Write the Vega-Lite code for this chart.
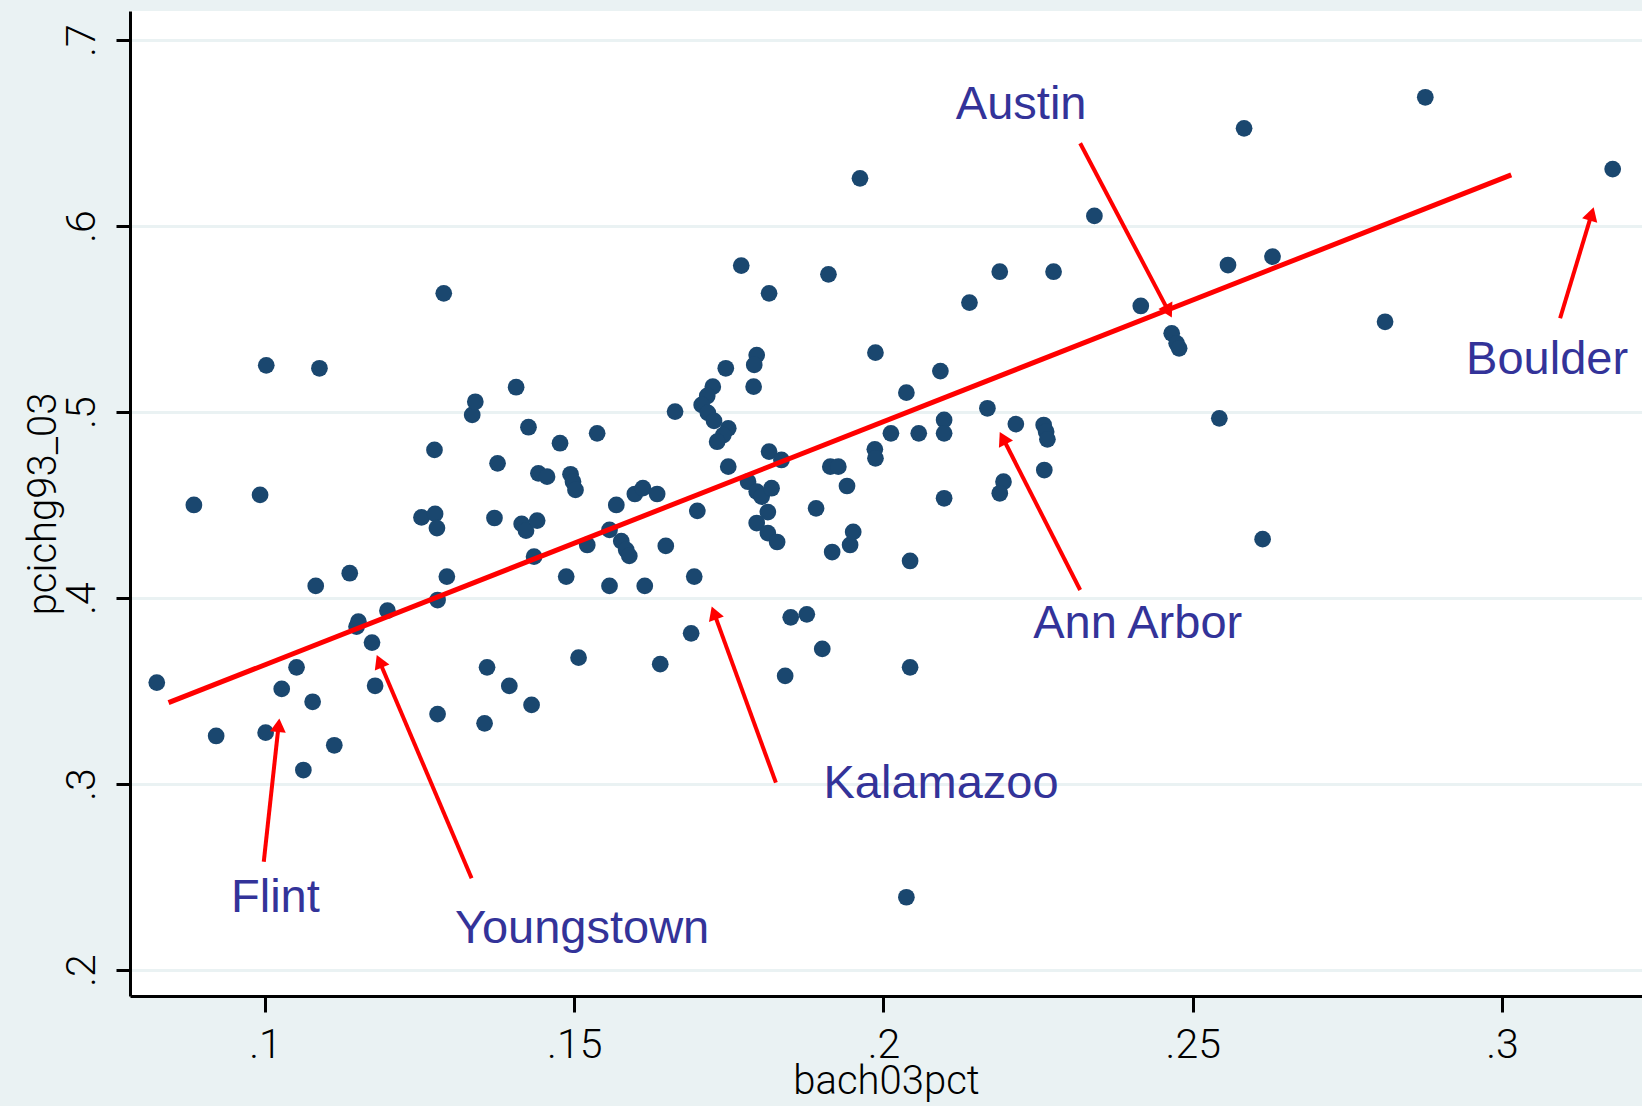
{
  "$schema": "https://vega.github.io/schema/vega-lite/v6.json",
  "width": 1512,
  "height": 985,
  "autosize": {"type": "none"},
  "padding": {"left": 130, "top": 11, "right": 0, "bottom": 110},
  "background": "#eaf2f3",
  "config": {
    "view": {"fill": "white", "stroke": null},
    "axis": {
      "labelFont": "Roboto",
      "labelFontWeight": 300,
      "labelFontSize": 41,
      "labelColor": "black",
      "titleFont": "Roboto",
      "titleFontWeight": 300,
      "titleFontSize": 40,
      "titleColor": "black",
      "domainColor": "black",
      "domainWidth": 3,
      "tickColor": "black",
      "tickWidth": 3,
      "labelOverlap": false,
      "labelFlush": false,
      "labelBound": false
    }
  },
  "datasets": {
    "points": [
      {"bach03pct": 0.0825, "pcichg93_03": 0.3545},
      {"bach03pct": 0.0885, "pcichg93_03": 0.4500},
      {"bach03pct": 0.0921, "pcichg93_03": 0.3258},
      {"bach03pct": 0.0992, "pcichg93_03": 0.4554},
      {"bach03pct": 0.1002, "pcichg93_03": 0.5251},
      {"bach03pct": 0.1001, "pcichg93_03": 0.3276},
      {"bach03pct": 0.1027, "pcichg93_03": 0.3511},
      {"bach03pct": 0.1051, "pcichg93_03": 0.3627},
      {"bach03pct": 0.1062, "pcichg93_03": 0.3075},
      {"bach03pct": 0.1077, "pcichg93_03": 0.3442},
      {"bach03pct": 0.1082, "pcichg93_03": 0.4065},
      {"bach03pct": 0.1088, "pcichg93_03": 0.5235},
      {"bach03pct": 0.1112, "pcichg93_03": 0.3208},
      {"bach03pct": 0.1137, "pcichg93_03": 0.4133},
      {"bach03pct": 0.1151, "pcichg93_03": 0.3873},
      {"bach03pct": 0.1148, "pcichg93_03": 0.3846},
      {"bach03pct": 0.1173, "pcichg93_03": 0.3760},
      {"bach03pct": 0.1178, "pcichg93_03": 0.3528},
      {"bach03pct": 0.1198, "pcichg93_03": 0.3932},
      {"bach03pct": 0.1253, "pcichg93_03": 0.4433},
      {"bach03pct": 0.1275, "pcichg93_03": 0.4452},
      {"bach03pct": 0.1278, "pcichg93_03": 0.4376},
      {"bach03pct": 0.1274, "pcichg93_03": 0.4796},
      {"bach03pct": 0.1279, "pcichg93_03": 0.3989},
      {"bach03pct": 0.1279, "pcichg93_03": 0.3376},
      {"bach03pct": 0.1289, "pcichg93_03": 0.5638},
      {"bach03pct": 0.1294, "pcichg93_03": 0.4115},
      {"bach03pct": 0.1335, "pcichg93_03": 0.4984},
      {"bach03pct": 0.1340, "pcichg93_03": 0.5055},
      {"bach03pct": 0.1355, "pcichg93_03": 0.3326},
      {"bach03pct": 0.1359, "pcichg93_03": 0.3627},
      {"bach03pct": 0.1371, "pcichg93_03": 0.4430},
      {"bach03pct": 0.1376, "pcichg93_03": 0.4724},
      {"bach03pct": 0.1395, "pcichg93_03": 0.3527},
      {"bach03pct": 0.1406, "pcichg93_03": 0.5133},
      {"bach03pct": 0.1415, "pcichg93_03": 0.4398},
      {"bach03pct": 0.1422, "pcichg93_03": 0.4362},
      {"bach03pct": 0.1440, "pcichg93_03": 0.4416},
      {"bach03pct": 0.1426, "pcichg93_03": 0.4918},
      {"bach03pct": 0.1431, "pcichg93_03": 0.3425},
      {"bach03pct": 0.1435, "pcichg93_03": 0.4222},
      {"bach03pct": 0.1442, "pcichg93_03": 0.4670},
      {"bach03pct": 0.1456, "pcichg93_03": 0.4652},
      {"bach03pct": 0.1477, "pcichg93_03": 0.4832},
      {"bach03pct": 0.1487, "pcichg93_03": 0.4115},
      {"bach03pct": 0.1494, "pcichg93_03": 0.4665},
      {"bach03pct": 0.1498, "pcichg93_03": 0.4625},
      {"bach03pct": 0.1502, "pcichg93_03": 0.4581},
      {"bach03pct": 0.1507, "pcichg93_03": 0.3679},
      {"bach03pct": 0.1521, "pcichg93_03": 0.4285},
      {"bach03pct": 0.1537, "pcichg93_03": 0.4885},
      {"bach03pct": 0.1557, "pcichg93_03": 0.4366},
      {"bach03pct": 0.1557, "pcichg93_03": 0.4065},
      {"bach03pct": 0.1568, "pcichg93_03": 0.4500},
      {"bach03pct": 0.1576, "pcichg93_03": 0.4306},
      {"bach03pct": 0.1584, "pcichg93_03": 0.4258},
      {"bach03pct": 0.1589, "pcichg93_03": 0.4226},
      {"bach03pct": 0.1598, "pcichg93_03": 0.4559},
      {"bach03pct": 0.1611, "pcichg93_03": 0.4591},
      {"bach03pct": 0.1634, "pcichg93_03": 0.4559},
      {"bach03pct": 0.1614, "pcichg93_03": 0.4065},
      {"bach03pct": 0.1639, "pcichg93_03": 0.3644},
      {"bach03pct": 0.1648, "pcichg93_03": 0.4280},
      {"bach03pct": 0.1663, "pcichg93_03": 0.5002},
      {"bach03pct": 0.1689, "pcichg93_03": 0.3810},
      {"bach03pct": 0.1694, "pcichg93_03": 0.4115},
      {"bach03pct": 0.1699, "pcichg93_03": 0.4468},
      {"bach03pct": 0.1724, "pcichg93_03": 0.5136},
      {"bach03pct": 0.1715, "pcichg93_03": 0.5086},
      {"bach03pct": 0.1706, "pcichg93_03": 0.5038},
      {"bach03pct": 0.1716, "pcichg93_03": 0.4995},
      {"bach03pct": 0.1726, "pcichg93_03": 0.4952},
      {"bach03pct": 0.1745, "pcichg93_03": 0.5235},
      {"bach03pct": 0.1749, "pcichg93_03": 0.4912},
      {"bach03pct": 0.1741, "pcichg93_03": 0.4876},
      {"bach03pct": 0.1731, "pcichg93_03": 0.4840},
      {"bach03pct": 0.1749, "pcichg93_03": 0.4706},
      {"bach03pct": 0.1770, "pcichg93_03": 0.5787},
      {"bach03pct": 0.1781, "pcichg93_03": 0.4625},
      {"bach03pct": 0.1795, "pcichg93_03": 0.4572},
      {"bach03pct": 0.1803, "pcichg93_03": 0.4545},
      {"bach03pct": 0.1819, "pcichg93_03": 0.4590},
      {"bach03pct": 0.1790, "pcichg93_03": 0.5136},
      {"bach03pct": 0.1795, "pcichg93_03": 0.5306},
      {"bach03pct": 0.1791, "pcichg93_03": 0.5253},
      {"bach03pct": 0.1815, "pcichg93_03": 0.5638},
      {"bach03pct": 0.1815, "pcichg93_03": 0.4787},
      {"bach03pct": 0.1835, "pcichg93_03": 0.4742},
      {"bach03pct": 0.1813, "pcichg93_03": 0.4462},
      {"bach03pct": 0.1795, "pcichg93_03": 0.4403},
      {"bach03pct": 0.1813, "pcichg93_03": 0.4349},
      {"bach03pct": 0.1828, "pcichg93_03": 0.4301},
      {"bach03pct": 0.1841, "pcichg93_03": 0.3581},
      {"bach03pct": 0.1850, "pcichg93_03": 0.3896},
      {"bach03pct": 0.1876, "pcichg93_03": 0.3912},
      {"bach03pct": 0.1891, "pcichg93_03": 0.4482},
      {"bach03pct": 0.1901, "pcichg93_03": 0.3726},
      {"bach03pct": 0.1911, "pcichg93_03": 0.5740},
      {"bach03pct": 0.1914, "pcichg93_03": 0.4706},
      {"bach03pct": 0.1927, "pcichg93_03": 0.4706},
      {"bach03pct": 0.1917, "pcichg93_03": 0.4247},
      {"bach03pct": 0.1941, "pcichg93_03": 0.4602},
      {"bach03pct": 0.1946, "pcichg93_03": 0.4285},
      {"bach03pct": 0.1951, "pcichg93_03": 0.4355},
      {"bach03pct": 0.1962, "pcichg93_03": 0.6256},
      {"bach03pct": 0.1986, "pcichg93_03": 0.4799},
      {"bach03pct": 0.1987, "pcichg93_03": 0.4751},
      {"bach03pct": 0.1987, "pcichg93_03": 0.5319},
      {"bach03pct": 0.2012, "pcichg93_03": 0.4885},
      {"bach03pct": 0.2037, "pcichg93_03": 0.5104},
      {"bach03pct": 0.2037, "pcichg93_03": 0.2391},
      {"bach03pct": 0.2043, "pcichg93_03": 0.4199},
      {"bach03pct": 0.2043, "pcichg93_03": 0.3627},
      {"bach03pct": 0.2057, "pcichg93_03": 0.4885},
      {"bach03pct": 0.2092, "pcichg93_03": 0.5220},
      {"bach03pct": 0.2098, "pcichg93_03": 0.4957},
      {"bach03pct": 0.2098, "pcichg93_03": 0.4885},
      {"bach03pct": 0.2098, "pcichg93_03": 0.4536},
      {"bach03pct": 0.2139, "pcichg93_03": 0.5588},
      {"bach03pct": 0.2168, "pcichg93_03": 0.5020},
      {"bach03pct": 0.2188, "pcichg93_03": 0.5754},
      {"bach03pct": 0.2194, "pcichg93_03": 0.4625},
      {"bach03pct": 0.2188, "pcichg93_03": 0.4563},
      {"bach03pct": 0.2214, "pcichg93_03": 0.4935},
      {"bach03pct": 0.2259, "pcichg93_03": 0.4930},
      {"bach03pct": 0.2263, "pcichg93_03": 0.4894},
      {"bach03pct": 0.2265, "pcichg93_03": 0.4853},
      {"bach03pct": 0.2260, "pcichg93_03": 0.4688},
      {"bach03pct": 0.2275, "pcichg93_03": 0.5754},
      {"bach03pct": 0.2341, "pcichg93_03": 0.6054},
      {"bach03pct": 0.2416, "pcichg93_03": 0.5570},
      {"bach03pct": 0.2466, "pcichg93_03": 0.5423},
      {"bach03pct": 0.2474, "pcichg93_03": 0.5369},
      {"bach03pct": 0.2478, "pcichg93_03": 0.5342},
      {"bach03pct": 0.2543, "pcichg93_03": 0.4966},
      {"bach03pct": 0.2557, "pcichg93_03": 0.5790},
      {"bach03pct": 0.2583, "pcichg93_03": 0.6525},
      {"bach03pct": 0.2613, "pcichg93_03": 0.4316},
      {"bach03pct": 0.2629, "pcichg93_03": 0.5835},
      {"bach03pct": 0.2811, "pcichg93_03": 0.5485},
      {"bach03pct": 0.2876, "pcichg93_03": 0.6692},
      {"bach03pct": 0.3179, "pcichg93_03": 0.6306}
    ],
    "fit": [
      {"x": 0.0844, "y": 0.3437},
      {"x": 0.3015, "y": 0.6275}
    ],
    "arrows": [
      {"city": "Flint", "x": 0.0998, "y": 0.2582, "x2": 0.1022, "y2": 0.3316, "angle": 6.1},
      {"city": "Youngstown", "x": 0.1334, "y": 0.2493, "x2": 0.1185, "y2": 0.3660, "angle": 336.9},
      {"city": "Kalamazoo", "x": 0.1826, "y": 0.3007, "x2": 0.1726, "y2": 0.3920, "angle": 340.0},
      {"city": "Ann Arbor", "x": 0.2318, "y": 0.4043, "x2": 0.2193, "y2": 0.4860, "angle": 333.0},
      {"city": "Austin", "x": 0.2318, "y": 0.6445, "x2": 0.2461, "y2": 0.5541, "angle": 152.1},
      {"city": "Boulder", "x": 0.3094, "y": 0.5504, "x2": 0.3145, "y2": 0.6065, "angle": 16.8}
    ],
    "labels": [
      {"label": "Flint", "x": 0.0945, "y": 0.2313},
      {"label": "Youngstown", "x": 0.1307, "y": 0.2145},
      {"label": "Kalamazoo", "x": 0.1903, "y": 0.2923},
      {"label": "Ann Arbor", "x": 0.2242, "y": 0.3783},
      {"label": "Austin", "x": 0.2117, "y": 0.6574},
      {"label": "Boulder", "x": 0.2942, "y": 0.5203}
    ]
  },
  "layer": [
    {
      "data": {"name": "points"},
      "mark": {"type": "circle", "size": 280, "color": "#1a476f", "opacity": 1},
      "encoding": {
        "x": {
          "field": "bach03pct", "type": "quantitative", "title": "bach03pct",
          "scale": {"domain": [0.07817, 0.32264], "nice": false, "zero": false},
          "axis": {
            "values": [0.1, 0.15, 0.2, 0.25, 0.3],
            "labelExpr": "substring(format(datum.value, '.2~f'), 1)",
            "grid": false,
            "tickSize": 16,
            "labelPadding": 13,
            "titlePadding": -4
          }
        },
        "y": {
          "field": "pcichg93_03", "type": "quantitative", "title": "pcichg93_03",
          "scale": {"domain": [0.18601, 0.71558], "nice": false, "zero": false},
          "axis": {
            "values": [0.2, 0.3, 0.4, 0.5, 0.6, 0.7],
            "labelExpr": "substring(format(datum.value, '.1~f'), 1)",
            "grid": true,
            "gridColor": "#eaf2f3",
            "gridWidth": 3,
            "tickSize": 14,
            "labelAngle": 270,
            "labelAlign": "center",
            "labelBaseline": "alphabetic",
            "labelPadding": 22,
            "titleBaseline": "alphabetic",
            "titlePadding": 6
          }
        }
      }
    },
    {
      "data": {"name": "fit"},
      "mark": {"type": "line", "color": "#ff0000", "strokeWidth": 5},
      "encoding": {
        "x": {"field": "x", "type": "quantitative", "title": "bach03pct"},
        "y": {"field": "y", "type": "quantitative", "title": "pcichg93_03"}
      }
    },
    {
      "data": {"name": "arrows"},
      "mark": {"type": "rule", "color": "#ff0000", "strokeWidth": 4},
      "encoding": {
        "x": {"field": "x", "type": "quantitative", "title": "bach03pct"},
        "y": {"field": "y", "type": "quantitative", "title": "pcichg93_03"},
        "x2": {"field": "x2"},
        "y2": {"field": "y2"}
      }
    },
    {
      "data": {"name": "arrows"},
      "mark": {"type": "point", "shape": "triangle-up", "filled": true, "color": "#ff0000", "size": 250, "opacity": 1},
      "encoding": {
        "x": {"field": "x2", "type": "quantitative", "title": "bach03pct"},
        "y": {"field": "y2", "type": "quantitative", "title": "pcichg93_03"},
        "angle": {"field": "angle", "type": "quantitative", "scale": null}
      }
    },
    {
      "data": {"name": "labels"},
      "mark": {"type": "text", "align": "left", "baseline": "alphabetic", "font": "Liberation Sans", "fontSize": 47, "color": "#333399"},
      "encoding": {
        "x": {"field": "x", "type": "quantitative", "title": "bach03pct"},
        "y": {"field": "y", "type": "quantitative", "title": "pcichg93_03"},
        "text": {"field": "label"}
      }
    }
  ]
}
